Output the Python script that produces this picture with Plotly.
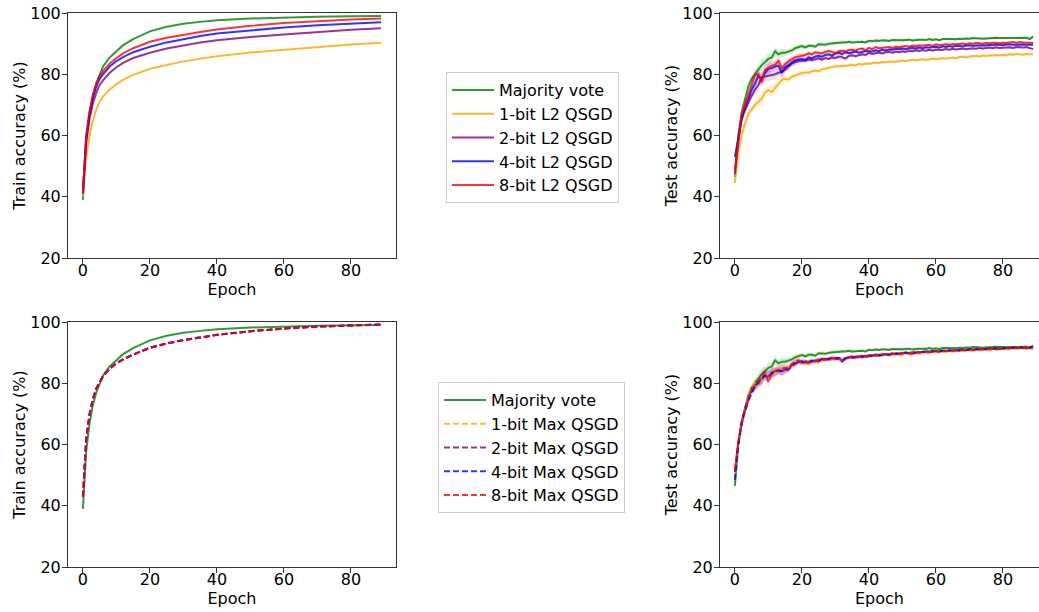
import plotly.graph_objects as go

# ---------------- data ----------------
train_epochs = [0, 1, 2, 3, 4, 5, 6, 8, 10, 12, 15, 20, 25, 30, 35, 40, 50, 60, 70, 80, 89]

train_majority = [39, 58, 67, 73, 77, 80, 82.5, 85.5, 87.5, 89.5, 91.5, 94, 95.5, 96.5, 97.1, 97.6, 98.2, 98.6, 98.8, 98.9, 99.0]
train_l2_1bit = [40, 53, 60, 65, 68.5, 71, 72.7, 75, 76.8, 78.2, 79.8, 81.8, 83.0, 84.2, 85.1, 85.9, 87.1, 88.0, 88.9, 89.7, 90.3]
train_l2_2bit = [41, 58, 65.5, 70.5, 74, 76.5, 78, 80.5, 82.3, 83.7, 85.3, 87.0, 88.4, 89.5, 90.4, 91.1, 92.2, 93.0, 93.8, 94.5, 95.0]
train_l2_4bit = [42, 60, 67.5, 72.5, 76, 78.5, 80, 82.5, 84.3, 85.6, 87.2, 89.0, 90.4, 91.5, 92.5, 93.3, 94.4, 95.3, 96.0, 96.6, 97.0]
train_l2_8bit = [41.5, 60, 68, 73.5, 77, 79.5, 81, 83.5, 85.3, 86.8, 88.5, 90.6, 91.9, 92.9, 93.8, 94.6, 95.8, 96.7, 97.4, 97.9, 98.2]

train_max_1bit = [43, 61.5, 69.5, 74.8, 78.2, 80.4, 82.2, 84.7, 86.4, 87.7, 89.3, 91.5, 92.9, 94.0, 94.9, 95.7, 96.9, 97.8, 98.4, 98.8, 99.1]
train_max_2bit = [43, 62, 70, 75, 78.3, 80.5, 82.3, 84.8, 86.5, 87.8, 89.4, 91.6, 93.0, 94.1, 95.0, 95.8, 97.0, 97.9, 98.5, 98.9, 99.2]
train_max_4bit = [43, 62, 70, 75, 78.3, 80.5, 82.3, 84.8, 86.5, 87.8, 89.4, 91.6, 93.0, 94.1, 95.0, 95.8, 97.0, 97.9, 98.5, 98.9, 99.2]
train_max_8bit = [43, 62, 70, 75, 78.3, 80.5, 82.3, 84.8, 86.5, 87.8, 89.4, 91.6, 93.0, 94.1, 95.0, 95.8, 97.0, 97.9, 98.5, 98.9, 99.2]

test_epochs = list(range(90))

test_majority = [46.5, 60, 67.5, 72, 76, 78.5, 80, 81.5, 83, 84, 85, 85.5, 87.5, 86.5, 87, 87, 87.3, 87.8, 88.5, 88.8,
                 89.2, 88.8, 89.3, 89.3, 89, 89.8, 89.8, 89.6, 90, 90.1, 90.3, 90.5, 90.4, 90.4, 90.6, 90.4, 90.5, 90.7, 90.6, 90.4,
                 90.9, 90.8, 91, 90.9, 91.1, 91, 90.9, 91.2, 91.1, 91.2, 91.1, 91.2, 91.3, 91, 91.2, 91.3, 91.3, 91.2, 91.5, 91.2,
                 91.4, 91.1, 91.5, 91.4, 91.5, 91.5, 91.4, 91.6, 91.5, 91.7, 91.6, 91.8, 91.7, 91.8, 91.6, 91.7, 91.8, 91.7, 91.9, 91.8,
                 91.8, 91.9, 91.9, 91.8, 91.9, 91.9, 91.8, 91.9, 91.5, 92.3]
test_l2_8bit = [49, 58, 66.5, 70, 73.5, 77, 79.8, 80, 77.5, 81.5, 82.2, 82.8, 83, 84.5, 82, 83.3, 84.2, 85, 85.6, 85.8,
                86, 86.3, 86.8, 86.5, 87.2, 87, 86.8, 87.3, 87.6, 87.3, 86.8, 87.5, 87.7, 87.4, 87.9, 88, 87.7, 88.2, 88.4, 87.8,
                88.6, 88.2, 88.9, 88.5, 88.6, 88.7, 88.9, 88.6, 89, 88.8, 89.1, 89.2, 89, 89.3, 89.2, 89.4, 89.3, 89.5, 89.6, 89.2,
                89.8, 89.5, 89.7, 89.8, 89.6, 89.9, 89.8, 90, 90, 89.8, 90.1, 90, 90.2, 90.1, 90, 90.2, 90.1, 90.3, 90.2, 90.1,
                90.3, 90.2, 90.4, 90.5, 90.3, 90.5, 90.4, 90.3, 90.2, 90.2]
test_l2_4bit = [53, 59, 65, 69, 72, 75, 77, 79.5, 78.3, 80.5, 81.8, 82, 82.5, 82.8, 80.5, 82.3, 83, 83.8, 84.5, 84.8,
                85, 84.7, 85.5, 85.2, 85.8, 86, 85.7, 86.3, 86.5, 86.1, 86.8, 87, 86.6, 87.2, 86.9, 87.1, 87.4, 87, 87.3, 87.6,
                87.5, 87.4, 87.8, 87.6, 88, 87.8, 88.1, 88, 88.3, 88.2, 88.4, 88.2, 88.5, 88.6, 88.4, 88.7, 88.5, 88.8, 88.7, 88.9,
                89, 88.7, 89.1, 88.9, 89.2, 89, 89.3, 89.2, 89.1, 89.4, 89.5, 89.3, 89.4, 89.6, 89.5, 89.4, 89.6, 89.5, 89.7, 89.6,
                89.5, 89.7, 89.8, 89.6, 89.7, 89.8, 89.7, 89.6, 89.7, 89.6]
test_l2_2bit = [47.5, 58, 66, 68.5, 71, 73, 75, 76.5, 79, 79.2, 79.5, 79.6, 80, 80.5, 80.8, 81.5, 82.5, 83.5, 84, 84.3,
                84.5, 84.4, 84.8, 84.6, 85, 85.2, 84.8, 85.3, 85, 85.5, 85.3, 85.8, 85.6, 85.1, 86, 86.2, 85.9, 86.3, 86.5, 86.3,
                87, 86.6, 86.9, 87.1, 86.8, 87.2, 87.3, 87, 87.4, 87.2, 87.5, 87.3, 87.7, 87.5, 87.8, 87.6, 87.9, 87.7, 88, 87.8,
                88.1, 87.9, 88, 88.2, 88, 88.3, 88.1, 88.2, 88.4, 88.2, 88.3, 88.5, 88.3, 88.6, 88.4, 88.5, 88.7, 88.5, 88.8, 88.6,
                88.7, 88.9, 88.8, 88.6, 88.9, 88.8, 88.7, 88.9, 88.5, 88.2]
test_l2_1bit = [44.5, 54, 60, 64, 67, 68.5, 70, 71, 72, 74, 74.8, 74.2, 75.5, 77, 78.2, 78.5, 78.3, 79.2, 79.5, 80,
                80.4, 80.6, 80.5, 81, 81.2, 81, 81.6, 81.9, 82.1, 82.4, 82.6, 82.5, 82.8, 82.7, 83, 83.1, 82.9, 83.3, 83.2, 83.5,
                83.4, 83.6, 83.8, 83.7, 84, 83.9, 84.1, 84.2, 84, 84.3, 84.5, 84.3, 84.6, 84.7, 84.5, 84.8, 84.9, 84.7, 85, 85.1,
                84.9, 85.2, 85.3, 85.1, 85.4, 85.5, 85.2, 85.6, 85.7, 85.5, 85.8, 85.9, 86, 85.8, 86.1, 86, 86.2, 86.1, 86.3, 86.2,
                86.4, 86.3, 86.5, 86.4, 86.6, 86.5, 86.4, 86.6, 86.5, 86.5]

test_max_8bit = [52, 61, 67, 71, 75, 78, 79.5, 80.5, 82, 83.7, 80.5, 83.5, 84, 84.5, 84.8, 85, 84.7, 86, 87.2, 87.5,
                 87, 87.3, 86.7, 87, 87.5, 87.8, 88, 87.6, 88.2, 88, 88.3, 88, 87.4, 88.1, 88.5, 88.7, 88.4, 88.8, 89, 88.7,
                 89.2, 89, 89.4, 89.2, 89.5, 89.4, 89.6, 89.7, 89.5, 89.8, 89.9, 89.7, 90, 90.1, 89.9, 90.2, 90.1, 90.3, 90.2, 90.4,
                 90.5, 90.3, 90.6, 90.5, 90.7, 90.6, 90.8, 90.7, 90.9, 90.8, 91, 90.9, 91.1, 91, 91.2, 91.1, 91.3, 91.2, 91.3, 91.4,
                 91.3, 91.5, 91.4, 91.5, 91.6, 91.5, 91.6, 91.7, 91.6, 91.7]
test_max_4bit = [48.5, 60, 66.5, 71.5, 74.5, 77, 79, 80.5, 81.5, 82.5, 82, 83.5, 83.8, 84.2, 84, 84.3, 84.5, 85.8, 86.5, 87,
                 87.2, 86.8, 87, 87.3, 87.1, 87.6, 87.9, 87.5, 88, 88.2, 87.9, 88.3, 87.6, 88.2, 88.4, 88.3, 88.6, 88.9, 88.5, 89,
                 88.8, 89.1, 89.3, 89, 89.4, 89.5, 89.3, 89.6, 89.8, 89.6, 89.9, 90, 89.8, 90.1, 90, 90.3, 90.2, 90.4, 90.3, 90.5,
                 90.6, 90.4, 90.7, 90.6, 90.8, 90.7, 90.9, 90.8, 91, 90.9, 91.1, 91, 91.2, 91.1, 91.2, 91.3, 91.2, 91.4, 91.3, 91.5,
                 91.4, 91.5, 91.6, 91.5, 91.6, 91.7, 91.6, 91.7, 91.6, 91.8]
test_max_2bit = [51, 60.5, 67, 71, 74.5, 77.5, 79.3, 80, 81.2, 82.8, 82.3, 83, 83.6, 84.3, 83.5, 84.6, 85, 86.2, 86.8, 87,
                 86.8, 86.5, 86.9, 87.2, 87.4, 87.2, 87.7, 88, 87.8, 88.1, 88.2, 87.9, 87.1, 88, 88.3, 88.6, 88.3, 88.7, 88.9, 88.6,
                 89, 89.2, 89, 89.3, 89.2, 89.5, 89.4, 89.7, 89.5, 89.8, 89.7, 90, 89.9, 89.6, 90.1, 90, 90.3, 90.2, 90.4, 90.3,
                 90.5, 90.4, 90.6, 90.5, 90.7, 90.6, 90.8, 90.7, 90.9, 90.8, 91, 90.9, 91.1, 91, 91.2, 91.1, 91.3, 91.2, 91.3, 91.2,
                 91.4, 91.3, 91.5, 91.4, 91.5, 91.6, 91.5, 91.6, 91.5, 91.6]
test_max_1bit = [50, 60, 67.5, 72, 76, 78.5, 80, 80.8, 81.5, 82.5, 82, 83, 83.3, 83.8, 84.2, 84.5, 85, 85.5, 86, 86.8,
                 86.5, 86.9, 86.2, 86.8, 87.2, 86.5, 87.5, 87.8, 87.3, 88, 87.7, 88.1, 87.3, 88, 88.2, 88.4, 88.1, 88.5, 88.3, 88.7,
                 88.5, 88.8, 89, 88.7, 89.1, 89.2, 89, 89.3, 89.4, 89.2, 89.5, 89.6, 89.4, 89.7, 89.8, 89.6, 89.9, 90, 89.8, 90.1,
                 90.2, 90, 90.3, 90.2, 90.4, 90.3, 90.5, 90.4, 90.6, 90.5, 90.7, 90.6, 90.8, 90.7, 90.9, 90.8, 90.7, 91, 90.9, 91.1,
                 91, 91.2, 91.1, 91.3, 91.2, 91.3, 91.4, 91.2, 91.3, 91.0]

# approximate std-dev (shaded band half-width) per epoch, read off the faint bands
test_spread = [1.5, 1.5, 1.5, 1.5, 1.5, 1.2, 1.5, 1.5, 2.0, 1.5, 1.8, 1.5, 1.5, 1.2, 1.5, 1.2, 1.0, 1.0, 1.0, 0.8,
               0.8, 0.7, 0.8, 0.7, 0.7, 0.6, 0.7, 0.6, 0.6, 0.7, 0.6, 0.6, 0.7, 0.6, 0.5, 0.6, 0.5, 0.5, 0.6, 0.5,
               0.5, 0.4, 0.5, 0.4, 0.5, 0.4, 0.4, 0.5, 0.4, 0.4, 0.5, 0.4, 0.4, 0.4, 0.5, 0.4, 0.4, 0.4, 0.4, 0.5,
               0.4, 0.4, 0.4, 0.4, 0.4, 0.4, 0.4, 0.4, 0.4, 0.4, 0.4, 0.4, 0.4, 0.4, 0.4, 0.4, 0.4, 0.4, 0.4, 0.4,
               0.4, 0.4, 0.4, 0.4, 0.4, 0.4, 0.4, 0.4, 0.4, 0.4]

names_l2 = ["Majority vote", "1-bit L2 QSGD", "2-bit L2 QSGD", "4-bit L2 QSGD", "8-bit L2 QSGD"]
names_max = ["Majority vote", "1-bit Max QSGD", "2-bit Max QSGD", "4-bit Max QSGD", "8-bit Max QSGD"]

# ---------------- style ----------------
rgb = [(0, 128, 0), (255, 165, 0), (128, 0, 128), (0, 0, 255), (255, 0, 0)]
colors = ["rgba(%d,%d,%d,0.8)" % c for c in rgb]
bands = ["rgba(%d,%d,%d,0.15)" % c for c in rgb]
FONT = "DejaVu Sans"
W, H = 1039, 612

fig = go.Figure()

def add(x, y, color, xa, ya, name, dash="solid", legend=None):
    fig.add_trace(go.Scatter(
        x=x, y=y, mode="lines", name=name,
        line=dict(color=color, width=2, dash=dash),
        xaxis=xa, yaxis=ya,
        showlegend=legend is not None,
        legend=legend if legend else "legend",
        hoverinfo="skip"))

def add_band(x, y, color, xa, ya):
    upper = [v + s for v, s in zip(y, test_spread)]
    lower = [v - s for v, s in zip(y, test_spread)]
    fig.add_trace(go.Scatter(
        x=list(x) + list(x)[::-1], y=upper + lower[::-1],
        mode="lines", fill="toself", fillcolor=color, line=dict(width=0),
        xaxis=xa, yaxis=ya, showlegend=False, hoverinfo="skip"))

dash = "6px,3px"
tl = [train_majority, train_l2_1bit, train_l2_2bit, train_l2_4bit, train_l2_8bit]
for i, s in enumerate(tl):
    add(train_epochs, s, colors[i], "x", "y", names_l2[i], legend="legend")
tr = [test_majority, test_l2_1bit, test_l2_2bit, test_l2_4bit, test_l2_8bit]
for i, s in enumerate(tr):
    add_band(test_epochs, s, bands[i], "x2", "y2")
for i, s in enumerate(tr):
    add(test_epochs, s, colors[i], "x2", "y2", names_l2[i])
bl = [train_majority, train_max_1bit, train_max_2bit, train_max_4bit, train_max_8bit]
for i, s in enumerate(bl):
    add(train_epochs, s, colors[i], "x3", "y3", names_max[i],
        dash="solid" if i == 0 else dash, legend="legend2")
br = [test_majority, test_max_1bit, test_max_2bit, test_max_4bit, test_max_8bit]
for i, s in enumerate(br):
    add_band(test_epochs, s, bands[i], "x4", "y4")
for i, s in enumerate(br):
    add(test_epochs, s, colors[i], "x4", "y4", names_max[i],
        dash="solid" if i == 0 else dash)

def px_x(a, b):
    return [a / W, b / W]

def px_y(top, bottom):
    return [1 - bottom / H, 1 - top / H]

axis_common = dict(showline=True, linecolor="#333333", linewidth=1, ticks="outside",
                   ticklen=5, tickcolor="#333333", showgrid=False, zeroline=False,
                   automargin=False,
                   tickfont=dict(family=FONT, size=16, color="black"))
xcommon = dict(axis_common, tickvals=[0, 20, 40, 60, 80], ticklabelstandoff=-7,
               title=dict(text="Epoch", font=dict(family=FONT, size=16, color="black"), standoff=0))
ycommon = dict(axis_common, range=[20, 100], tickvals=[20, 40, 60, 80, 100], ticklabelstandoff=-2)

ytitle = lambda t: dict(text=t, font=dict(family=FONT, size=16, color="black"), standoff=0)

fig.update_layout(
    width=W, height=H,
    margin=dict(l=0, r=0, t=0, b=0, pad=0, autoexpand=False),
    paper_bgcolor="white", plot_bgcolor="white",
    font=dict(family=FONT, size=16, color="black"),
    xaxis=dict(xcommon, domain=px_x(68, 396), range=[-4.45, 93.45], mirror=True, anchor="y"),
    yaxis=dict(ycommon, domain=px_y(13, 258), mirror=True, anchor="x", title=ytitle("Train accuracy (%)")),
    xaxis2=dict(xcommon, domain=px_x(720, 1039), range=[-4.45, 90.77], mirror=True, anchor="y2"),
    yaxis2=dict(ycommon, domain=px_y(13, 258), anchor="x2", title=ytitle("Test accuracy (%)")),
    xaxis3=dict(xcommon, domain=px_x(68, 396), range=[-4.45, 93.45], mirror=True, anchor="y3"),
    yaxis3=dict(ycommon, domain=px_y(322, 567), mirror=True, anchor="x3", title=ytitle("Train accuracy (%)")),
    xaxis4=dict(xcommon, domain=px_x(720, 1039), range=[-4.45, 90.77], mirror=True, anchor="y4"),
    yaxis4=dict(ycommon, domain=px_y(322, 567), anchor="x4", title=ytitle("Test accuracy (%)")),
    legend=dict(x=446 / W, y=1 - 72 / H, xanchor="left", yanchor="top",
                bordercolor="#cccccc", borderwidth=1, bgcolor="white", itemwidth=42,
                font=dict(family=FONT, size=16, color="black"), tracegroupgap=0),
    legend2=dict(x=438 / W, y=1 - 382 / H, xanchor="left", yanchor="top",
                 bordercolor="#cccccc", borderwidth=1, bgcolor="white", itemwidth=42,
                 font=dict(family=FONT, size=16, color="black"), tracegroupgap=0),
)

fig.write_html("out.html", config={"displayModeBar": False},
               post_script="document.body.style.margin='0';document.body.style.overflow='hidden';")
